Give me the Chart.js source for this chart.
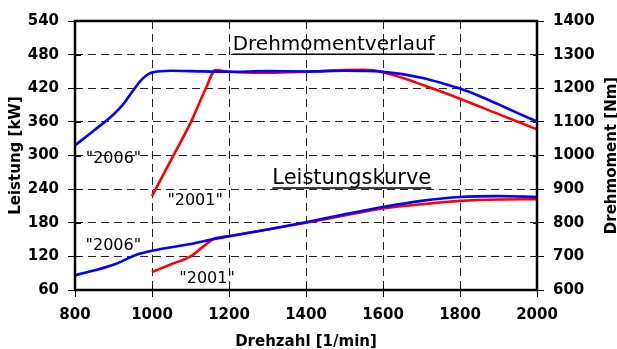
<!DOCTYPE html>
<html>
<head>
<meta charset="utf-8">
<script src="https://cdn.jsdelivr.net/npm/chart.js@4"></script>
<style>
  html, body { margin: 0; padding: 0; background: #fff; }
  #wrap { width: 617px; height: 349px; }
</style>
</head>
<body>
<div id="wrap"><canvas id="myChart" width="617" height="349"></canvas></div>
<script>
// torque (Drehmoment, Nm, right axis)
const rpmTorque2006 = [800, 850, 900, 925, 950, 975, 1000, 1050, 1100, 1200, 1300, 1400, 1500, 1600, 1650, 1700, 1750, 1800, 1850, 1900, 1950, 2000];
const torque2006 = [1030, 1075, 1122, 1152, 1192, 1228, 1247, 1252, 1251, 1249, 1251, 1250, 1252, 1249, 1242, 1231, 1216, 1199, 1177, 1152, 1126, 1101];
const rpmTorque2001 = [1000, 1050, 1100, 1140, 1165, 1200, 1300, 1400, 1500, 1550, 1600, 1650, 1700, 1800, 1900, 2000];
const torque2001 = [879, 988, 1097, 1200, 1254, 1249, 1246, 1249, 1254, 1255, 1248, 1231, 1211, 1169, 1123, 1078];

// power (Leistung, kW, left axis)
const rpmPower2006 = [800, 900, 960, 1000, 1100, 1160, 1200, 1300, 1400, 1500, 1600, 1700, 1800, 1900, 2000];
const power2006 = [86, 105, 123, 130, 142, 151, 156, 168, 181, 195, 208, 219, 226, 227.5, 226];
const rpmPower2001 = [1000, 1050, 1100, 1130, 1160, 1200, 1300, 1400, 1500, 1600, 1700, 1800, 1900, 2000];
const power2001 = [92, 106, 120, 136, 151, 156, 168, 180, 193, 205.5, 213, 219, 221.5, 222];

const xTicks = [800, 1000, 1200, 1400, 1600, 1800, 2000];
const kwTicks = [60, 120, 180, 240, 300, 360, 420, 480, 540];
const nmTicks = [600, 700, 800, 900, 1000, 1100, 1200, 1300, 1400];

const pts = (xs, ys) => xs.map((x, i) => ({ x: x, y: ys[i] }));

Chart.defaults.font.family = "'DejaVu Sans', sans-serif";
Chart.defaults.color = "#000";

const tickFont = { size: 15, weight: "bold" };
const plain = v => String(v);

// labels inside the plot (anchored in data space)
const notes = [
    { text: "Drehmomentverlauf", x: 1472, y: 488.7, size: 20, underline: true },
    { text: "Leistungskurve", x: 1519, y: 250, size: 21, underline: true },
    { text: "\"2006\"", x: 900, y: 286.5, size: 16 },
    { text: "\"2001\"", x: 1112, y: 212.5, size: 16 },
    { text: "\"2006\"", x: 899.5, y: 131.7, size: 16 },
    { text: "\"2001\"", x: 1143, y: 72.6, size: 16 }
];

const extras = {
    id: "extras",
    afterDraw(chart) {
        const ctx = chart.ctx;
        const a = chart.chartArea;
        const sx = chart.scales.x, sy = chart.scales.y, sy1 = chart.scales.y1;
        ctx.save();
        // frame
        ctx.strokeStyle = "#000";
        ctx.lineWidth = 2.5;
        ctx.strokeRect(a.left, a.top, a.right - a.left, a.bottom - a.top);
        // inner half of the crossing ticks
        ctx.lineWidth = 1;
        ctx.beginPath();
        xTicks.forEach(v => {
            const p = Math.round(sx.getPixelForValue(v)) + 0.5;
            ctx.moveTo(p, a.bottom); ctx.lineTo(p, a.bottom - 5);
        });
        kwTicks.forEach(v => {
            const p = Math.round(sy.getPixelForValue(v)) + 0.5;
            ctx.moveTo(a.left, p); ctx.lineTo(a.left + 6, p);
        });
        nmTicks.forEach(v => {
            const p = Math.round(sy1.getPixelForValue(v)) + 0.5;
            ctx.moveTo(a.right, p); ctx.lineTo(a.right - 4, p);
        });
        ctx.stroke();

        // notes
        ctx.fillStyle = "#000";
        ctx.textAlign = "center";
        ctx.textBaseline = "alphabetic";
        notes.forEach(n => {
            ctx.font = n.size + "px 'DejaVu Sans'";
            const px = sx.getPixelForValue(n.x);
            const py = sy.getPixelForValue(n.y);
            ctx.fillText(n.text, px, py);
            if (n.underline) {
                const w = ctx.measureText(n.text).width;
                ctx.lineWidth = 1.6;
                ctx.beginPath();
                ctx.moveTo(px - w / 2, py + 4.5);
                ctx.lineTo(px + w / 2, py + 4.5);
                ctx.stroke();
            }
        });

        // axis titles
        ctx.font = "bold 15px 'DejaVu Sans'";
        const cy = (a.top + a.bottom) / 2;
        ctx.fillText("Drehzahl [1/min]", (a.left + a.right) / 2, 346);
        ctx.translate(19.5, cy);
        ctx.rotate(-Math.PI / 2);
        ctx.fillText("Leistung [kW]", 0, 0);
        ctx.rotate(Math.PI / 2);
        ctx.translate(616 - 19.5, 0);
        ctx.rotate(-Math.PI / 2);
        ctx.fillText("Drehmoment [Nm]", 0, 0);
        ctx.restore();
    }
};

const gridStyle = { color: "#222", lineWidth: 1, tickLength: 7, tickColor: "#000", tickWidth: 1 };

new Chart(document.getElementById("myChart").getContext("2d"), {
    type: "line",
    data: {
        datasets: [
            { label: "Drehmoment 2006", data: pts(rpmTorque2006, torque2006), yAxisID: "y1", borderColor: "#0000ff", order: 1 },
            { label: "Leistung 2006", data: pts(rpmPower2006, power2006), yAxisID: "y", borderColor: "#0000ff", order: 1 },
            { label: "Drehmoment 2001", data: pts(rpmTorque2001, torque2001), yAxisID: "y1", borderColor: "#ff0000", order: 2 },
            { label: "Leistung 2001", data: pts(rpmPower2001, power2001), yAxisID: "y", borderColor: "#ff0000", order: 2 }
        ]
    },
    options: {
        responsive: false,
        animation: false,
        events: [],
        layout: { padding: { top: 21, left: 0, right: 0, bottom: 0 } },
        elements: {
            line: { borderWidth: 2.6, fill: false, cubicInterpolationMode: "monotone" },
            point: { radius: 0 }
        },
        plugins: { legend: { display: false }, tooltip: { enabled: false } },
        scales: {
            x: {
                type: "linear", min: 800, max: 2000,
                afterBuildTicks: s => { s.ticks = xTicks.map(v => ({ value: v })); },
                afterFit: s => { s.height = 59; },
                ticks: { font: tickFont, padding: 9, maxRotation: 0, callback: plain },
                grid: gridStyle,
                border: { display: false, dash: [8, 5] }
            },
            y: {
                position: "left", min: 60, max: 540,
                afterBuildTicks: s => { s.ticks = kwTicks.map(v => ({ value: v })); },
                afterFit: s => { s.width = 75; },
                ticks: { font: tickFont, padding: 9, callback: plain },
                grid: gridStyle,
                border: { display: false, dash: [8, 5] }
            },
            y1: {
                position: "right", min: 600, max: 1400,
                afterBuildTicks: s => { s.ticks = nmTicks.map(v => ({ value: v })); },
                afterFit: s => { s.width = 80; },
                ticks: { font: tickFont, padding: 9, callback: plain },
                grid: Object.assign({}, gridStyle, { drawOnChartArea: false }),
                border: { display: false }
            }
        }
    },
    plugins: [extras]
});
</script>
</body>
</html>
